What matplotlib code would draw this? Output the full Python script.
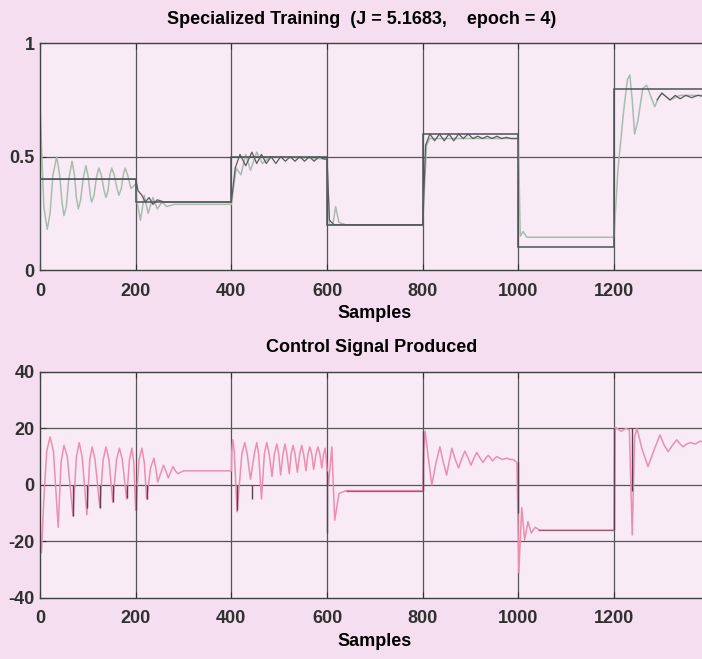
import numpy as np
import matplotlib.pyplot as plt

plt.rcParams['font.family'] = ['Liberation Sans', 'DejaVu Sans']
plt.rcParams['font.weight'] = 'bold'
plt.rcParams['axes.unicode_minus'] = False

# reference steps (top plot)
ref_edges = [0, 200, 400, 600, 800, 1000, 1200, 1400]
ref_levels = [0.4, 0.3, 0.5, 0.2, 0.6, 0.1, 0.8]

# plant output (light trace)
out_s = [0, 3, 8, 15, 21, 27, 35, 41, 46, 50, 55, 60, 67, 72, 76, 80, 85, 90, 96,
         101, 105, 108, 113, 118, 123, 128, 134, 138, 142, 146, 150, 155, 161, 165,
         170, 174, 178, 183, 190, 200, 203, 210, 218, 226, 236, 245, 255, 265, 280,
         400, 410, 420, 430, 440, 453, 465, 480, 600, 605, 612, 618, 625, 640, 800,
         808, 815, 1000, 1004, 1010, 1018, 1200, 1208, 1220, 1228, 1233, 1238, 1243,
         1250, 1260, 1268, 1276, 1285, 1293, 1300, 1317, 1338, 1400]
out_v = [0.73, 0.55, 0.28, 0.18, 0.25, 0.42, 0.5, 0.42, 0.3, 0.24, 0.28, 0.4, 0.48, 0.42, 0.32, 0.27, 0.31, 0.4, 0.46,
         0.41, 0.33, 0.3, 0.33, 0.41, 0.45, 0.42, 0.35, 0.32, 0.35, 0.42, 0.45, 0.42, 0.36, 0.33,
         0.36, 0.42, 0.45, 0.42, 0.36, 0.38, 0.3, 0.22, 0.33, 0.25, 0.32, 0.27, 0.3, 0.28, 0.29,
         0.29, 0.45, 0.42, 0.51, 0.44, 0.52, 0.47, 0.5, 0.49, 0.2, 0.2, 0.28, 0.21, 0.2, 0.2,
         0.55, 0.58, 0.58, 0.15, 0.17, 0.145, 0.145, 0.44, 0.7, 0.84, 0.86, 0.75, 0.6,
         0.66, 0.8, 0.815, 0.77, 0.72, 0.76, 0.78, 0.75, 0.77, 0.77]

# network output (dark trace), gap between 1000 and 1290
net_s = [0, 200, 205, 213, 220, 228, 236, 245, 260, 400, 408, 418, 430, 443, 453, 463,
         473, 483, 493, 503, 513, 523, 533, 543, 553, 563, 573, 583, 593, 600, 605,
         615, 800, 806, 815, 825, 835, 845, 855, 865, 875, 885, 895, 905, 915, 925,
         935, 945, 955, 965, 975, 985, 1000, 1100, 1290, 1300, 1317, 1328, 1338, 1350,
         1362, 1375, 1390, 1400]
net_v = [0.4, 0.4, 0.35, 0.33, 0.3, 0.32, 0.29, 0.31, 0.3, 0.3, 0.45, 0.51, 0.46, 0.52, 0.47, 0.51,
         0.47, 0.5, 0.47, 0.5, 0.48, 0.5, 0.48, 0.5, 0.48, 0.5, 0.48, 0.5, 0.49, 0.49, 0.22,
         0.2, 0.2, 0.55, 0.6, 0.57, 0.6, 0.57, 0.6, 0.57, 0.6, 0.58, 0.6, 0.58, 0.59, 0.58,
         0.59, 0.58, 0.59, 0.58, 0.585, 0.58, 0.58, np.nan, 0.75, 0.78, 0.75, 0.77, 0.755, 0.77,
         0.76, 0.77, 0.765, 0.77]

# control signal (bottom plot)
u_s = [0, 3, 8, 14, 21, 28, 38, 44, 50, 57, 69, 76, 82, 88, 98, 104, 109, 115, 125,
       132, 138, 144, 152, 160, 166, 172, 181, 187, 192, 196, 200, 207, 213, 218, 223,
       231, 238, 242, 246, 252, 258, 263, 268, 273, 278, 283, 288, 300,
       400, 401, 403, 406, 412, 422, 428, 433, 440, 448, 453, 457, 463, 469, 474, 479,
       485, 490, 495, 499, 503, 508, 512, 516, 521, 525, 529, 533, 538, 543, 547, 551,
       556, 560, 564, 568, 572, 577, 581, 585, 589, 593, 596, 598, 600,
       603, 610, 616, 625, 640,
       800, 802, 805, 810, 819, 828, 836, 843, 850, 855, 861, 868, 875, 881, 888, 895,
       901, 907, 913, 920, 926, 932, 937, 942, 946, 951, 955, 961, 967, 972, 976, 983,
       989, 997,
       1001, 1007, 1013, 1020, 1027, 1035, 1045, 1200,
       1202, 1215, 1225, 1232, 1238, 1243, 1248, 1258, 1271, 1285, 1296, 1305, 1313,
       1322, 1331, 1338, 1344, 1352, 1360, 1370, 1380, 1390, 1400]
u_v = [-20, -24, -5, 12, 17, 12, -15, 8, 14, 10, -11, 10, 15, 10, -10.5, 9, 13.5, 9, -8,
       9, 13.5, 9, -6, 9, 13, 9, -5, 9, 13, 8, -9, 9, 13, 8, -5,
       6, 9.5, 6, 1, 4, 7, 5, 2.5, 4.5, 6.5, 5, 4, 5,
       5, 12, 16, 12, -9.5, 11, 15, 11, 2, 11, 15, 11, -5, 11, 15, 11,
       3, 11, 14.5, 11, 3.5, 11, 14.5, 11, 4, 11, 14, 11, 4.5, 11, 14, 11,
       5, 11, 13.5, 11, 5.5, 11, 13.5, 11, 6, 11, 13, 10, 5,
       0, 13.5, -12.5, -3, -2,
       -2, 12, 19, 12, 0, 8, 13.5, 8, 3.5, 8, 13, 9, 6, 9, 12, 9.5,
       7, 9.5, 11.5, 9.5, 8, 9.5, 10.5, 9.5, 8.5, 9.5, 10, 9.5, 9, 9.3, 9.5, 9,
       9, 8,
       -31, -8, -19.5, -13, -17, -15, -16, -16,
       20.5, 19, 20, 19.5, -17.7, 17, 20, 13, 6.5, 13, 17.7, 14, 11.8,
       14, 16, 14.5, 13.5, 14.5, 15, 14.5, 15.5, 15, 15]

# dark spikes / jumps on the control plot
spike_x = [69, 98, 125, 152, 181, 200, 223, 412, 443, 600, 800, 1000, 1200, 1237]
spike_lo = [-11, -8, -8, -6, -4.5, -9, -5, -9, -5, -17, -2, -10, -16, -2]
spike_hi = [0, 0, 0, 0, 0, 0, 0, 0, 0, 5, 19, 8, 20, 20]
flat_lvl = [-2, -16]
flat_from = [640, 1040]
flat_to = [800, 1200]

xticks = [0, 200, 400, 600, 800, 1000, 1200]

fig = plt.figure(figsize=(7.02, 6.59), dpi=100, facecolor='#f4def0')
ax1 = fig.add_axes([0.057, 0.590, 0.954, 0.3445])
ax2 = fig.add_axes([0.057, 0.0926, 0.954, 0.343])

gridc = '#555555'
for ax in (ax1, ax2):
    ax.set_facecolor('#f8ebf6')
    ax.set_xlim(0, 1400)
    ax.set_xticks(xticks)
    for x in [200, 400, 600, 800, 1000, 1200]:
        ax.axvline(x, color=gridc, lw=0.9, zorder=1)
    for s in ax.spines.values():
        s.set_color('#404040')
        s.set_linewidth(1.0)
    ax.tick_params(direction='in', length=4, labelsize=13, colors='#303030',
                   top=True, pad=4)
    ax.tick_params(axis='x', pad=9)
    ax.set_xlabel('Samples', fontsize=13, fontweight='bold', labelpad=4)

ax1.set_ylim(0, 1)
ax1.set_yticks([0, 0.5, 1])
ax1.set_yticklabels(['0', '0.5', '1'])
ax1.axhline(0.5, color=gridc, lw=0.9, zorder=1)
ax1.stairs(ref_levels, ref_edges, color='#4a545a', lw=1.1, zorder=3)
ax1.plot(out_s, out_v, color='#a9bcae', lw=1.1, zorder=2)
ax1.plot(net_s, net_v, color='#5a5a5a', lw=0.9, zorder=4)
ax1.set_title('Specialized Training  (J = 5.1683,    epoch = 4)', fontsize=13,
              fontweight='bold', pad=14, x=0.48)

ax2.set_ylim(-40, 40)
ax2.set_yticks([-40, -20, 0, 20, 40])
for y in [-20, 0, 20]:
    ax2.axhline(y, color=gridc, lw=0.9, zorder=1)
ax2.plot(u_s, u_v, color='#ec8fae', lw=1.1, zorder=2)
ax2.vlines(spike_x, spike_lo, spike_hi, color='#5a4050', lw=1.0, zorder=3)
ax2.hlines(flat_lvl, flat_from, flat_to, color='#9a5a70', lw=0.9, zorder=3)
ax2.set_title('Control Signal Produced', fontsize=13, fontweight='bold', pad=14, x=0.495)

fig.savefig('out.png', dpi=100, facecolor=fig.get_facecolor())
